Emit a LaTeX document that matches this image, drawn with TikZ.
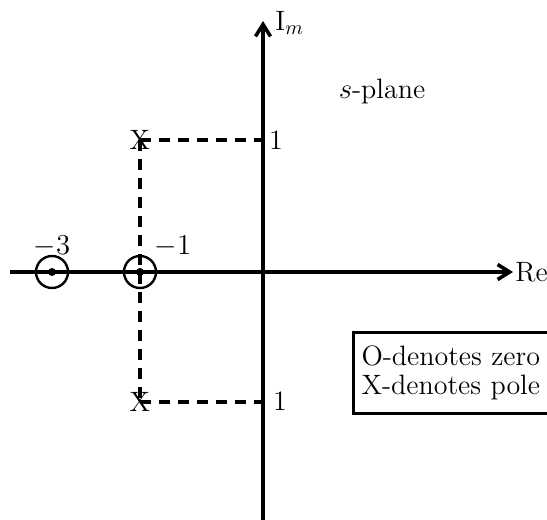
\documentclass[tikz,border=0pt]{standalone}
\usetikzlibrary{arrows.meta}

\begin{document}
\begin{tikzpicture}[x=0.5pt,y=-0.5pt,
  axis/.style={line width=1.8pt,-{Straight Barb[length=6pt,width=7.5pt]}},
  guide/.style={line width=1.6pt,dash pattern=on 5.5pt off 4pt},
  zeromark/.style={circle,draw,line width=1.2pt,minimum size=16pt,inner sep=0pt},
  zerodot/.style={circle,fill,minimum size=4pt,inner sep=0pt},
  lbl/.style={font=\fontsize{14}{14.5}\selectfont,inner sep=1pt},
]
\useasboundingbox (0,0) rectangle (547,520);
\clip (0,0) rectangle (547,520);

% Axes
\coordinate (reStart) at (10,272);
\coordinate (imStart) at (263,522);
\coordinate (imTip)   at (263,21);
\node[lbl,anchor=west] (re) at (513,272) {Re};
\node[lbl,anchor=base west] (im) at (273,30) {I$_m$};
\draw[axis] (reStart) -- (re.west);
\draw[axis] (imStart) -- (imTip);

% Plane label
\node[lbl] (plane) at (382,91) {$s$-plane};

% Poles
\node[lbl] (p1) at (140,140) {X};
\node[lbl] (p2) at (140,402) {X};
\coordinate (i1) at (263,140);
\coordinate (i2) at (263,402);
\draw[guide] (p1.center) -- (i1);
\draw[guide] (p2.center) -- (i2);
\draw[guide] (p1.center) -- (p2.center);
\node[lbl] (one1) at (276,140) {1};
\node[lbl] (one2) at (280,401) {1};

% Zeros
\node[zeromark] (z1) at (52,272) {};
\node[zeromark] (z2) at (140,272) {};
\node[zerodot] at (z1) {};
\node[zerodot] at (z2) {};
\node[lbl] (m3) at (52,246) {$-3$};
\node[lbl] (m1) at (173,246) {$-1$};

% Legend
\node[lbl,draw,line width=1.5pt,anchor=north west,align=left,
      text width=98pt,inner xsep=4pt,inner ysep=6.8pt] (legend) at (352,331)
  {O-denotes zero\\X-denotes pole};

\end{tikzpicture}
\end{document}
